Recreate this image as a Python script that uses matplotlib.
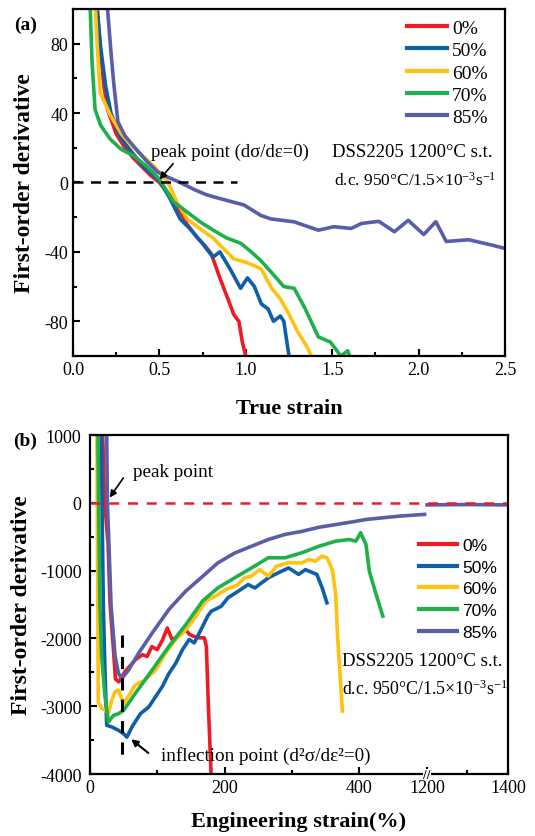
import numpy as np
import matplotlib.pyplot as plt
import matplotlib.transforms as mtransforms
from matplotlib.ticker import MultipleLocator, FixedLocator

plt.rcParams['font.family'] = ['Liberation Serif', 'DejaVu Serif']
plt.rcParams['mathtext.fontset'] = 'custom'
plt.rcParams['mathtext.rm'] = 'Liberation Serif'
plt.rcParams['mathtext.default'] = 'rm'
plt.rcParams['axes.unicode_minus'] = False

labels = ['0%', '50%', '60%', '70%', '85%']
colors = ['#ED1C24', '#0F5EA8', '#FFC20E', '#1FB04B', '#5A5DA8']

# ---- (a) first-order derivative vs true strain
a_x0 = [0.14, 0.16, 0.18, 0.20, 0.25, 0.30, 0.35, 0.40, 0.45, 0.50, 0.55, 0.60, 0.66,
        0.72, 0.76, 0.80, 0.85, 0.90, 0.93, 0.96, 0.98, 1.00]
a_y0 = [100, 75, 55, 42, 28, 20, 14, 9, 4, 0, -6, -13, -24, -32, -36, -41, -55, -68,
        -76, -80, -92, -100]
a_x50 = [0.14, 0.16, 0.19, 0.22, 0.27, 0.32, 0.40, 0.50, 0.56, 0.62, 0.68, 0.74, 0.81,
         0.85, 0.91, 0.97, 1.01, 1.05, 1.09, 1.13, 1.16, 1.20, 1.22, 1.25]
a_y50 = [100, 78, 55, 40, 27, 20, 10, 1, -9, -21, -27, -34, -43, -40, -50, -61, -55,
         -60, -70, -73, -80, -77, -80, -100]
a_x60 = [0.13, 0.14, 0.157, 0.215, 0.28, 0.35, 0.43, 0.50, 0.55, 0.60, 0.66, 0.74, 0.81,
         0.87, 0.93, 1.00, 1.05, 1.09, 1.15, 1.20, 1.25, 1.30, 1.35, 1.38]
a_y60 = [100, 80, 52, 39, 28, 20, 13, 6, 0, -11, -21, -27, -32, -38, -44, -46, -48,
         -50, -61, -67, -76, -86, -94, -100]
a_x70 = [0.10, 0.11, 0.128, 0.16, 0.215, 0.28, 0.35, 0.43, 0.50, 0.58, 0.66, 0.74, 0.82,
         0.89, 0.97, 1.02, 1.087, 1.15, 1.22, 1.28, 1.34, 1.42, 1.49, 1.55, 1.59, 1.60]
a_y70 = [100, 70, 42, 33, 25, 19, 15.5, 9, 2, -11, -17, -23, -28, -32, -35, -39, -45,
         -52, -60, -61, -72, -89, -92, -100, -97, -100]
a_x85 = [0.20, 0.22, 0.235, 0.26, 0.30, 0.35, 0.42, 0.49, 0.55, 0.62, 0.70, 0.77, 0.84,
         0.99, 1.087, 1.145, 1.28, 1.42, 1.51, 1.61, 1.67, 1.77, 1.86, 1.94, 2.03, 2.10,
         2.16, 2.29, 2.42, 2.50]
a_y85 = [100, 75, 58, 35, 27, 21, 13, 6, 3, 0, -4, -7, -9, -13, -19, -21, -22.7, -27.5,
         -25.5, -26.5, -23.6, -22.4, -28.4, -21.8, -30, -22.6, -34, -33, -36, -38]

# ---- (b) first-order derivative vs engineering strain
b_x0 = [19, 22, 27, 30, 35, 38, 43, 52, 60, 68, 78, 85, 92, 100, 108, 115, 122, 132,
        142, 148, 153, 162, 170, 173, 176, 180]
b_y0 = [1000, 0, -600, -1500, -2165, -2600, -2640, -2490, -2400, -2310, -2240, -2265,
        -2120, -2165, -2020, -1845, -2015, -1965, -1870, -1940, -1965, -1990, -1990,
        -2120, -3000, -4000]
b_x50 = [17, 18, 20, 22.5, 25, 32.5, 42.5, 50, 55, 62.5, 75, 87.5, 97.5, 107.5, 117.5,
         127.5, 137.5, 147.5, 155, 165, 175, 180, 195, 205, 220, 235, 245, 255, 265,
         280, 295, 310, 320, 337, 345, 352]
b_y50 = [1000, 0, -1520, -2510, -3280, -3305, -3355, -3405, -3455, -3305, -3110, -3010,
         -2860, -2710, -2515, -2365, -2165, -2015, -2065, -1870, -1670, -1600, -1525,
         -1400, -1305, -1205, -1255, -1180, -1105, -1030, -960, -1055, -985, -1055,
         -1255, -1475]
b_x60 = [10.5, 11, 12, 12.5, 17.5, 22.5, 27.5, 32.5, 37.5, 42.5, 50, 60, 67.5, 82.5,
         97.5, 112.5, 127.5, 142.5, 152.5, 162.5, 172.5, 187.5, 202.5, 217.5, 230, 240,
         252, 265, 277, 295, 315, 325, 335, 345, 352, 360, 365, 368, 375]
b_y60 = [1000, 0, -2000, -2950, -3030, -3060, -3100, -2910, -2785, -2760, -2960, -2810,
         -2685, -2610, -2465, -2215, -2015, -1870, -1745, -1595, -1445, -1370, -1275,
         -1220, -1105, -1080, -985, -1080, -935, -885, -885, -835, -860, -785, -810,
         -985, -1350, -2000, -3070]
b_x70 = [12, 13, 15, 17.5, 22.5, 27.5, 35, 42.5, 50, 67.5, 92.5, 117.5, 142.5, 167.5,
         190, 215, 240, 265, 290, 315, 340, 365, 385, 395, 402, 410, 415, 425, 435]
b_y70 = [1000, 0, -1520, -2265, -2860, -3230, -3135, -3110, -3060, -2810, -2465, -2115,
         -1795, -1445, -1255, -1105, -960, -810, -810, -735, -640, -565, -540, -565,
         -440, -615, -1010, -1350, -1670]
b_x85 = [25, 26, 28, 31.5, 37.5, 42.5, 47.5, 57.5, 72.5, 92.5, 117.5, 142.5, 165, 190,
         215, 240, 265, 290, 315, 340, 365, 390, 410, 460, 497, np.nan, 1200, 1300, 1400]
b_y85 = [1000, 0, -530, -1520, -2265, -2515, -2590, -2465, -2215, -1920, -1570, -1300,
         -1105, -885, -740, -640, -540, -465, -420, -360, -320, -280, -245, -195, -170,
         np.nan, -30, -25, -30]

a_data = [(a_x0, a_y0), (a_x50, a_y50), (a_x60, a_y60), (a_x70, a_y70), (a_x85, a_y85)]
b_data = [(b_x0, b_y0), (b_x50, b_y50), (b_x60, b_y60), (b_x70, b_y70), (b_x85, b_y85)]

cond2 = 'd.c. 950\u00b0C/1.5\u00d710$^{-3}$s$^{-1}$'


# broken x axis for (b): 0-500 and 1200-1400
def fwd(x):
    x = np.asarray(x, dtype=float)
    return np.where(x <= 500, x,
                    np.where(x < 1200, 500 + (x - 500) * 0.001,
                             500.7 + (x - 1200) * 0.6))


def inv(u):
    u = np.asarray(u, dtype=float)
    return np.where(u <= 500, u,
                    np.where(u < 500.7, 500 + (u - 500) / 0.001,
                             1200 + (u - 500.7) / 0.6))


fig = plt.figure(figsize=(5.35, 8.37), dpi=100)
ax1 = fig.add_axes([0.1364, 0.5735, 0.8075, 0.4146])
ax2 = fig.add_axes([0.168, 0.074, 0.7813, 0.405])

for ax in (ax1, ax2):
    for s in ax.spines.values():
        s.set_linewidth(1.6)
    ax.tick_params(which='both', direction='in', top=False, right=False,
                   width=1.5, labelsize=13)
    ax.tick_params(which='major', length=5)
    ax.tick_params(which='minor', length=3)
ax2.tick_params(axis='y', which='major', pad=6)

# ---- panel (a)
for (x, y), c, lab in zip(a_data, colors, labels):
    ax1.plot(x, y, color=c, lw=2.6, label=lab, solid_joinstyle='round')
ax1.plot([0, 0.95], [0, 0], color='k', lw=1.8, dashes=(4, 3))
ax1.set_xlim(0, 2.5)
ax1.set_ylim(-100, 100)
ax1.xaxis.set_major_locator(MultipleLocator(0.5))
ax1.xaxis.set_minor_locator(MultipleLocator(0.25))
ax1.yaxis.set_major_locator(FixedLocator([-80, -40, 0, 40, 80]))
ax1.yaxis.set_minor_locator(FixedLocator([-60, -20, 20, 60]))
ax1.xaxis.set_major_formatter(plt.FuncFormatter(lambda v, p: f'{v:.1f}'))
ax1.set_xlabel('True strain', fontsize=16, fontweight='bold')
ax1.set_ylabel('First-order derivative', fontsize=17, fontweight='bold')
ax1.xaxis.set_label_coords(0.5, -0.122)
ax1.yaxis.set_label_coords(-0.088, 0.5)

ax1.annotate('', xy=(0.49, 0.5), xytext=(0.59, 12),
             arrowprops=dict(arrowstyle='-|>', color='k', lw=1.2, mutation_scale=10))
ax1.text(0.45, 18, 'peak point (d\u03c3/d\u03b5=0)', fontsize=13.5, ha='left', va='center')
ax1.text(2.43, 18, 'DSS2205 1200\u00b0C s.t.', fontsize=13.5, ha='right', va='center')
ax1.text(2.45, 1.5, cond2, fontsize=12.5, ha='right', va='center')

leg1 = ax1.legend(loc='upper left', bbox_to_anchor=(0.773, 0.97), frameon=False,
                  fontsize=14, handlelength=2.06, handletextpad=0.26, labelspacing=0.24,
                  borderpad=0, borderaxespad=0)
for h in leg1.get_lines():
    h.set_linewidth(3)

# ---- panel (b)
ax2.set_xscale('function', functions=(fwd, inv))
for (x, y), c, lab in zip(b_data, colors, labels):
    ax2.plot(x, y, color=c, lw=2.6, label=lab, solid_joinstyle='round')
ax2.axhline(0, color='#ED1C24', lw=1.8, dashes=(4, 3.5))
ax2.plot([48, 48], [-1950, -3800], color='k', lw=2.2, dashes=(4, 3))
ax2.set_xlim(0, 1400)
ax2.set_ylim(-4000, 1000)
ax2.xaxis.set_major_locator(FixedLocator([0, 200, 400, 1200, 1400]))
ax2.xaxis.set_minor_locator(FixedLocator([100, 300, 1300]))
ax2.xaxis.set_major_formatter(plt.FuncFormatter(lambda v, p: f'{v:.0f}'))
ax2.yaxis.set_major_locator(MultipleLocator(1000))
ax2.yaxis.set_minor_locator(MultipleLocator(500))
ax2.set_xlabel('Engineering strain(%)', fontsize=16, fontweight='bold')
ax2.set_ylabel('First-order derivative', fontsize=17, fontweight='bold')
ax2.xaxis.set_label_coords(0.5, -0.11)
ax2.yaxis.set_label_coords(-0.139, 0.5)

# break mark on the bottom axis
brk = mtransforms.blended_transform_factory(ax2.transData, ax2.transAxes)
ax2.text(1200, 0, '//', transform=brk, ha='center', va='center', fontsize=8,
         family='DejaVu Sans', bbox=dict(fc='white', ec='none', pad=0.2), zorder=5)

ax2.annotate('', xy=(27, 45), xytext=(52, 400),
             arrowprops=dict(arrowstyle='-|>', color='k', lw=1.2, mutation_scale=10))
ax2.text(64, 470, 'peak point', fontsize=13.8, ha='left', va='center')
ax2.annotate('', xy=(58, -3460), xytext=(90, -3715),
             arrowprops=dict(arrowstyle='-|>', color='k', lw=1.5, mutation_scale=10))
ax2.text(105, -3720, 'inflection point (d\u00b2\u03c3/d\u03b5\u00b2=0)', fontsize=13.8,
         ha='left', va='center')
ax2.text(374, -2330, 'DSS2205 1200\u00b0C s.t.', fontsize=13.5, ha='left', va='center')
ax2.text(374, -2730, cond2, fontsize=12.8, ha='left', va='center')

leg2 = ax2.legend(loc='upper left', bbox_to_anchor=(0.787, 0.697), frameon=False,
                  prop={'family': 'Liberation Sans', 'size': 12.5}, handlelength=2.2,
                  handletextpad=0.3, labelspacing=0.38, borderpad=0, borderaxespad=0)
for h in leg2.get_lines():
    h.set_linewidth(3)

fig.text(0.047, 1 - 25 / 837, '(a)', fontsize=14, fontweight='bold', ha='center', va='center')
fig.text(0.047, 1 - 441 / 837, '(b)', fontsize=14, fontweight='bold', ha='center', va='center')

fig.savefig('out.png', dpi=100)
